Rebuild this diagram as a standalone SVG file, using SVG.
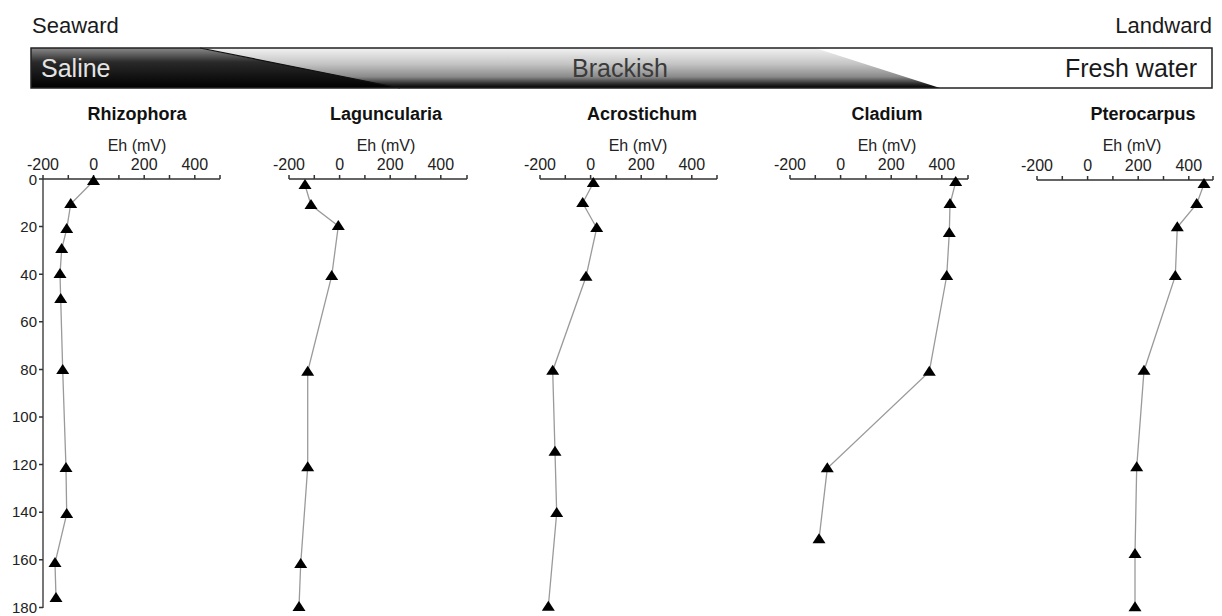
<svg xmlns="http://www.w3.org/2000/svg" width="1222" height="616" viewBox="0 0 1222 616">
<defs>
<linearGradient id="gBrack" x1="0" y1="0" x2="0" y2="1">
<stop offset="0" stop-color="#f2f2f2"/>
<stop offset="0.4" stop-color="#c4c4c4"/>
<stop offset="0.72" stop-color="#8a8a8a"/>
<stop offset="0.9" stop-color="#2a2a2a"/>
<stop offset="1" stop-color="#000"/>
</linearGradient>
<linearGradient id="gSal" x1="0" y1="0" x2="0" y2="1">
<stop offset="0" stop-color="#8a8a8a"/>
<stop offset="0.35" stop-color="#2a2a2a"/>
<stop offset="1" stop-color="#000"/>
</linearGradient>
<polygon id="tri" points="0,-6 6.5,4 -6.5,4" fill="#000"/>
</defs>
<style>
text{font-family:"Liberation Sans",Arial,sans-serif;fill:#1a1a1a}
.big{font-size:22px}
.band{font-size:25px}
.title{font-size:18px;font-weight:bold;text-anchor:middle;fill:#111}
.eh{font-size:16px;text-anchor:middle;fill:#222}
.tk{font-size:16px;text-anchor:middle;fill:#222}
.yl{font-size:15px;text-anchor:end;fill:#222}
.ax{stroke:#333;stroke-width:1.5;fill:none}
.yax{stroke:#777;stroke-width:2;fill:none}
.data{stroke:#9a9a9a;stroke-width:1.3;fill:none}
</style>
<rect width="1222" height="616" fill="#fff"/>

<g id="banner">
<text class="big" x="32" y="33">Seaward</text>
<text class="big" x="1212" y="33" text-anchor="end">Landward</text>
<rect x="31" y="48" width="1181" height="40" fill="url(#gBrack)"/>
<polygon points="31,48 200,48 400,88 31,88" fill="url(#gSal)"/>
<line x1="200" y1="48" x2="400" y2="88" stroke="#111" stroke-width="1.2"/>
<polygon points="815,48 1212,48 1212,88 940,88" fill="#fff"/>
<rect x="31" y="48" width="1181" height="40" fill="none" stroke="#222" stroke-width="1.5"/>
<text class="band" x="41" y="77" style="fill:#e4e4e4">Saline</text>
<text class="band" x="620" y="77" text-anchor="middle" style="fill:#3a3a3a">Brackish</text>
<text class="band" x="1197" y="77" text-anchor="end">Fresh water</text>
</g>

<g id="yaxis">
<line class="yax" x1="43" y1="179" x2="43" y2="608"/>
<path class="ax" d="M39,179H43M39,226.6H43M39,274.2H43M39,321.8H43M39,369.4H43M39,417H43M39,464.6H43M39,512.2H43M39,559.8H43M39,607.4H43" stroke-width="1.2"/>
<text class="yl" x="37" y="185">0</text>
<text class="yl" x="37" y="232">20</text>
<text class="yl" x="37" y="280">40</text>
<text class="yl" x="37" y="327">60</text>
<text class="yl" x="37" y="375">80</text>
<text class="yl" x="37" y="422">100</text>
<text class="yl" x="37" y="470">120</text>
<text class="yl" x="37" y="517">140</text>
<text class="yl" x="37" y="565">160</text>
<text class="yl" x="37" y="613">180</text>
</g>

<g id="rhizophora">
<text class="title" x="137" y="120">Rhizophora</text>
<text class="eh" x="137" y="151">Eh (mV)</text>
<path class="ax" d="M43,179H220M43,175V179M68.3,175V179M93.6,175V179M118.9,175V179M144.2,175V179M169.5,175V179M194.8,175V179M220,175V179"/>
<text class="tk" x="43" y="170">-200</text>
<text class="tk" x="93.6" y="170">0</text>
<text class="tk" x="144.2" y="170">200</text>
<text class="tk" x="194.8" y="170">400</text>
</g>

<g id="laguncularia">
<text class="title" x="386" y="120">Laguncularia</text>
<text class="eh" x="386" y="151">Eh (mV)</text>
<path class="ax" d="M289,179H467M289,175V179M314.3,175V179M339.6,175V179M364.9,175V179M390.2,175V179M415.5,175V179M440.8,175V179M467,175V179"/>
<text class="tk" x="289" y="170">-200</text>
<text class="tk" x="339.6" y="170">0</text>
<text class="tk" x="390.2" y="170">200</text>
<text class="tk" x="440.8" y="170">400</text>
</g>

<g id="acrostichum">
<text class="title" x="642" y="120">Acrostichum</text>
<text class="eh" x="638" y="151">Eh (mV)</text>
<path class="ax" d="M540,179H717M540,175V179M565.3,175V179M590.6,175V179M615.9,175V179M641.2,175V179M666.5,175V179M691.8,175V179M717,175V179"/>
<text class="tk" x="540" y="170">-200</text>
<text class="tk" x="590.6" y="170">0</text>
<text class="tk" x="641.2" y="170">200</text>
<text class="tk" x="691.8" y="170">400</text>
</g>

<g id="cladium">
<text class="title" x="887" y="120">Cladium</text>
<text class="eh" x="887" y="151">Eh (mV)</text>
<path class="ax" d="M790,179H968M790,175V179M815.3,175V179M840.6,175V179M865.9,175V179M891.2,175V179M916.5,175V179M941.8,175V179M968,175V179"/>
<text class="tk" x="790" y="170">-200</text>
<text class="tk" x="840.6" y="170">0</text>
<text class="tk" x="891.2" y="170">200</text>
<text class="tk" x="941.8" y="170">400</text>
</g>

<g id="pterocarpus">
<text class="title" x="1143" y="120">Pterocarpus</text>
<text class="eh" x="1132" y="151">Eh (mV)</text>
<path class="ax" d="M1037,180H1213M1037,176V180M1062.3,176V180M1087.6,176V180M1112.9,176V180M1138.2,176V180M1163.5,176V180M1188.8,176V180M1213,176V180"/>
<text class="tk" x="1037" y="171">-200</text>
<text class="tk" x="1087.6" y="171">0</text>
<text class="tk" x="1138.2" y="171">200</text>
<text class="tk" x="1188.8" y="171">400</text>
</g>

<g id="connectors">
<polyline class="data" points="93.5,181 70.7,204 66.7,229 61.7,249 60,274 60.7,299 62.7,370 66,468 66.7,514 55,563 56,598"/>
<polyline class="data" points="305,185 311,205 338.3,226 331.7,276 307.7,371.7 307.7,467.3 300.7,564 299,607"/>
<polyline class="data" points="593.3,183 582.7,203 596.7,228 586,276.7 552.7,370.7 555,451.7 556.7,513 548.3,606.7"/>
<polyline class="data" points="955.7,182 950,204 949.3,233 946.7,276 929.3,371.7 827.3,468.3 819,539.3"/>
<polyline class="data" points="1204,184 1196.7,204 1177.3,227.3 1175.3,276 1144,370.7 1136.7,467.3 1135,554 1135,607.3"/>
</g>

<g id="markers">
<use href="#tri" x="93.5" y="181"/><use href="#tri" x="70.7" y="204"/><use href="#tri" x="66.7" y="229"/><use href="#tri" x="61.7" y="249"/><use href="#tri" x="60" y="274"/><use href="#tri" x="60.7" y="299"/><use href="#tri" x="62.7" y="370"/><use href="#tri" x="66" y="468"/><use href="#tri" x="66.7" y="514"/><use href="#tri" x="55" y="563"/><use href="#tri" x="56" y="598"/>
<use href="#tri" x="305" y="185"/><use href="#tri" x="311" y="205"/><use href="#tri" x="338.3" y="226"/><use href="#tri" x="331.7" y="276"/><use href="#tri" x="307.7" y="371.7"/><use href="#tri" x="307.7" y="467.3"/><use href="#tri" x="300.7" y="564"/><use href="#tri" x="299" y="607"/>
<use href="#tri" x="593.3" y="183"/><use href="#tri" x="582.7" y="203"/><use href="#tri" x="596.7" y="228"/><use href="#tri" x="586" y="276.7"/><use href="#tri" x="552.7" y="370.7"/><use href="#tri" x="555" y="451.7"/><use href="#tri" x="556.7" y="513"/><use href="#tri" x="548.3" y="606.7"/>
<use href="#tri" x="955.7" y="182"/><use href="#tri" x="950" y="204"/><use href="#tri" x="949.3" y="233"/><use href="#tri" x="946.7" y="276"/><use href="#tri" x="929.3" y="371.7"/><use href="#tri" x="827.3" y="468.3"/><use href="#tri" x="819" y="539.3"/>
<use href="#tri" x="1204" y="184"/><use href="#tri" x="1196.7" y="204"/><use href="#tri" x="1177.3" y="227.3"/><use href="#tri" x="1175.3" y="276"/><use href="#tri" x="1144" y="370.7"/><use href="#tri" x="1136.7" y="467.3"/><use href="#tri" x="1135" y="554"/><use href="#tri" x="1135" y="607.3"/>
</g>
</svg>
